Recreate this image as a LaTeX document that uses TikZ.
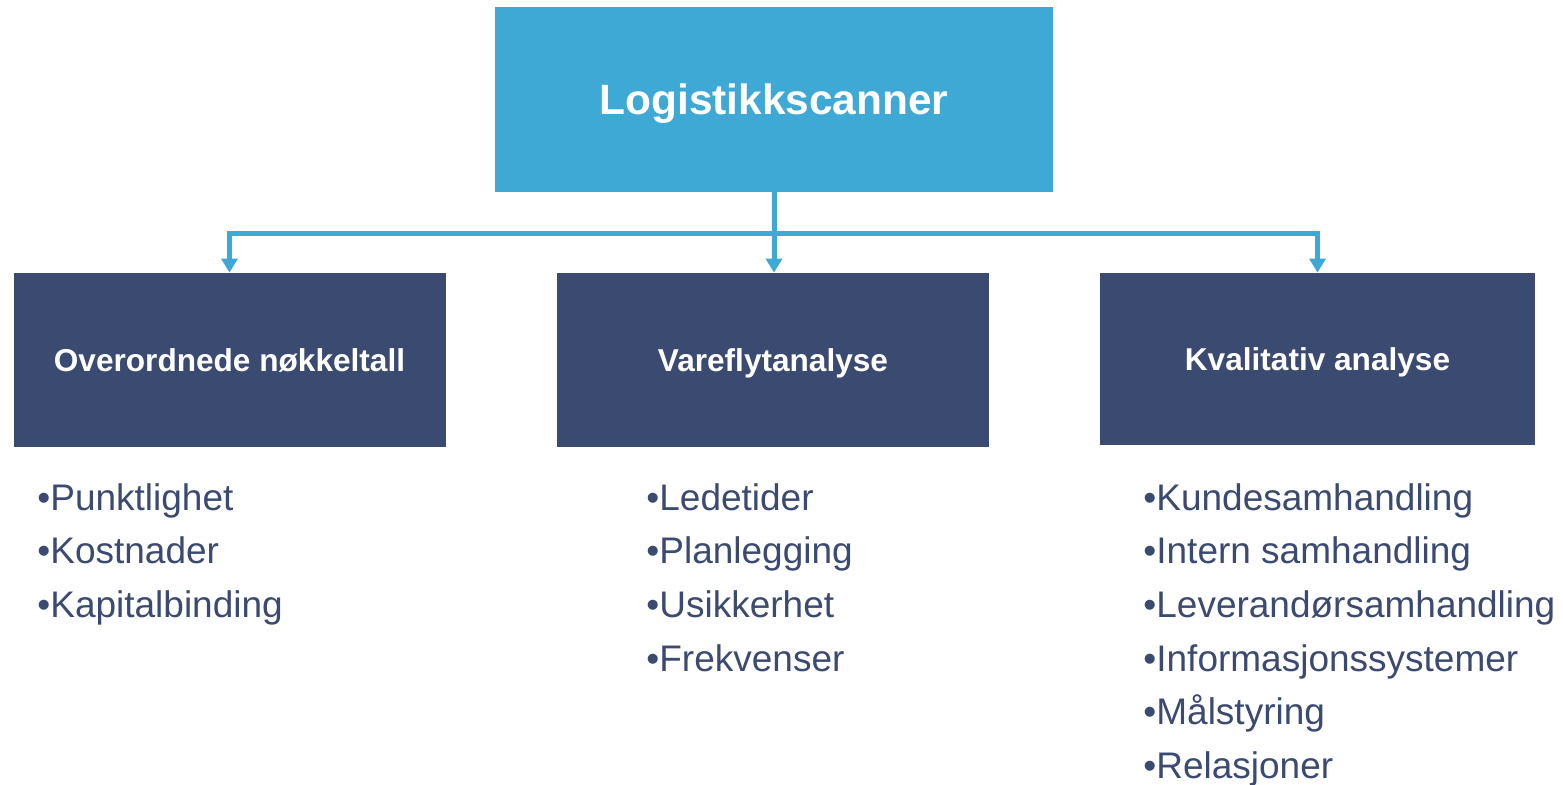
\documentclass[tikz,border=0pt]{standalone}
\usepackage{fontspec}
\setmainfont[Ligatures=NoCommon]{Liberation Sans}
\usetikzlibrary{arrows.meta,positioning}
\definecolor{scanblue}{RGB}{63,169,214}
\definecolor{boxnavy}{RGB}{59,74,112}
\tikzset{
  topbox/.style={fill=scanblue, text=white, font=\bfseries\fontsize{21.2}{25}\selectfont,
    minimum width=279pt, minimum height=92.5pt, inner sep=0pt, text depth=0pt},
  partbox/.style={fill=boxnavy, text=white, font=\bfseries\fontsize{15.8}{19}\selectfont,
    minimum width=216pt, minimum height=87pt, inner sep=0pt, text depth=0pt},
  itemlist/.style={anchor=north west, align=left, inner sep=0pt, text=boxnavy,
    font=\fontsize{18.5}{26.8}\selectfont},
  conn/.style={draw=scanblue, line width=2.5pt, -{Triangle[width=8pt,length=7pt]}}
}
\begin{document}
\begin{tikzpicture}[x=0.5pt,y=-0.5pt]
  \useasboundingbox (0,0) rectangle (1563,784);

  \node[topbox] (scanner) at (774,99.5) {Logistikkscanner};

  \node[partbox] (nokkel) at (229.5,360) {Overordnede nøkkeltall};
  \node[partbox] (vareflyt) at (773,360) {Vareflytanalyse};
  \node[partbox, minimum width=217.5pt, minimum height=86pt] (kvalitativ) at (1317.5,359) {Kvalitativ analyse};

  \coordinate (hub) at (774,233);
  \draw[conn] (scanner.south) -- (hub) -- (vareflyt.north -| hub);
  \draw[conn] (hub) -| (nokkel.north);
  \draw[conn] (hub) -| (kvalitativ.north);

  % bullet lists
  \node[itemlist] (nokkelpunkt) at (37,483) {•Punktlighet\\•Kostnader\\•Kapitalbinding};
  \node[itemlist] (vareflytpunkt) at (646,483) {•Ledetider\\•Planlegging\\•Usikkerhet\\•Frekvenser};
  \node[itemlist] (kvalitativpunkt) at (1143,483) {•Kundesamhandling\\•Intern samhandling\\•Leverandørsamhandling\\•Informasjonssystemer\\•Målstyring\\•Relasjoner};
\end{tikzpicture}
\end{document}
